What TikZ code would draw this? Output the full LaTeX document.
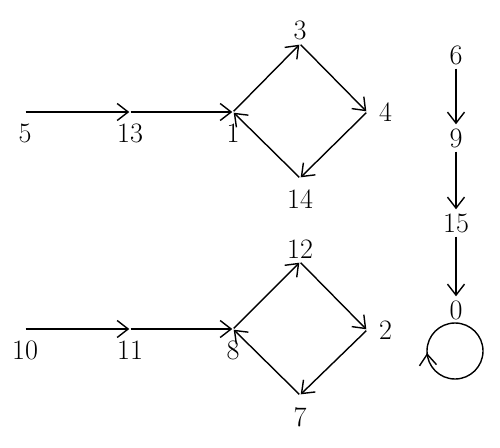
\documentclass[tikz,border=0pt]{standalone}
\usepackage{fontspec}
\usetikzlibrary{arrows.meta,decorations.markings}

\begin{document}
\begin{tikzpicture}[x=0.02cm,y=0.02cm,label distance=2.8pt]
        \tikzstyle{every path}=[line width=0.8pt]
        \tikzstyle{every node}=[font=\fontsize{16}{18}\selectfont]
        \tikzstyle{pt}=[inner sep=0pt,minimum size=0pt]
        \tikzstyle{num}=[draw=none,inner sep=2pt]
        \tikzstyle{edge}=[-{Straight Barb[length=2.2mm,width=3.4mm]}]
        \tikzstyle{loop}=[postaction={decorate},decoration={markings,
            mark=at position 0.512 with {\arrowreversed{Straight Barb[length=2.2mm,width=3.4mm]}}}]

        \useasboundingbox (0,0) rectangle (500,447);

        %upper part
        \node [pt,label=below:5] (n5) at (25,335) {};
        \node [pt,label=below:13] (n13) at (130,335) {};
        \node [pt,label=below:1] (n1) at (233,335) {};
        \node [pt,label={[label distance=-2pt]above:3}] (n3) at (300,403) {};
        \node [pt,label=right:4] (n4) at (367,335) {};
        \node [pt,label=below:14] (n14) at (300,269) {};

        %lower part
        \node [pt,label=below:10] (n10) at (25,118) {};
        \node [pt,label=below:11] (n11) at (130,118) {};
        \node [pt,label=below:8] (n8) at (233,118) {};
        \node [pt,label={[label distance=-2pt]above:12}] (n12) at (300,185) {};
        \node [pt,label=right:2] (n2) at (367,117) {};
        \node [pt,label=below:7] (n7) at (300,52) {};

        %column on the right
        \node [num] (n6) at (456,392) {6};
        \node [num] (n9) at (456,309) {9};
        \node [num] (n15) at (456,224) {15};
        \node [num] (n0) at (456,137) {0};
        \coordinate (c0) at (455,96);

        \draw [edge] (n5) -- (n13);
        \draw [edge] (n13) -- (n1);
        \draw [edge] (n1) -- (n3);
        \draw [edge] (n3) -- (n4);
        \draw [edge] (n4) -- (n14);
        \draw [edge] (n14) -- (n1);

        \draw [edge] (n10) -- (n11);
        \draw [edge] (n11) -- (n8);
        \draw [edge] (n8) -- (n12);
        \draw [edge] (n12) -- (n2);
        \draw [edge] (n2) -- (n7);
        \draw [edge] (n7) -- (n8);

        \foreach \a/\b in {n6/n9, n9/n15, n15/n0} {
            \draw [edge] (\a) -- (\b);
        };

        %loop at 0
        \draw [loop] (c0) circle [radius=28];
\end{tikzpicture}
\end{document}
